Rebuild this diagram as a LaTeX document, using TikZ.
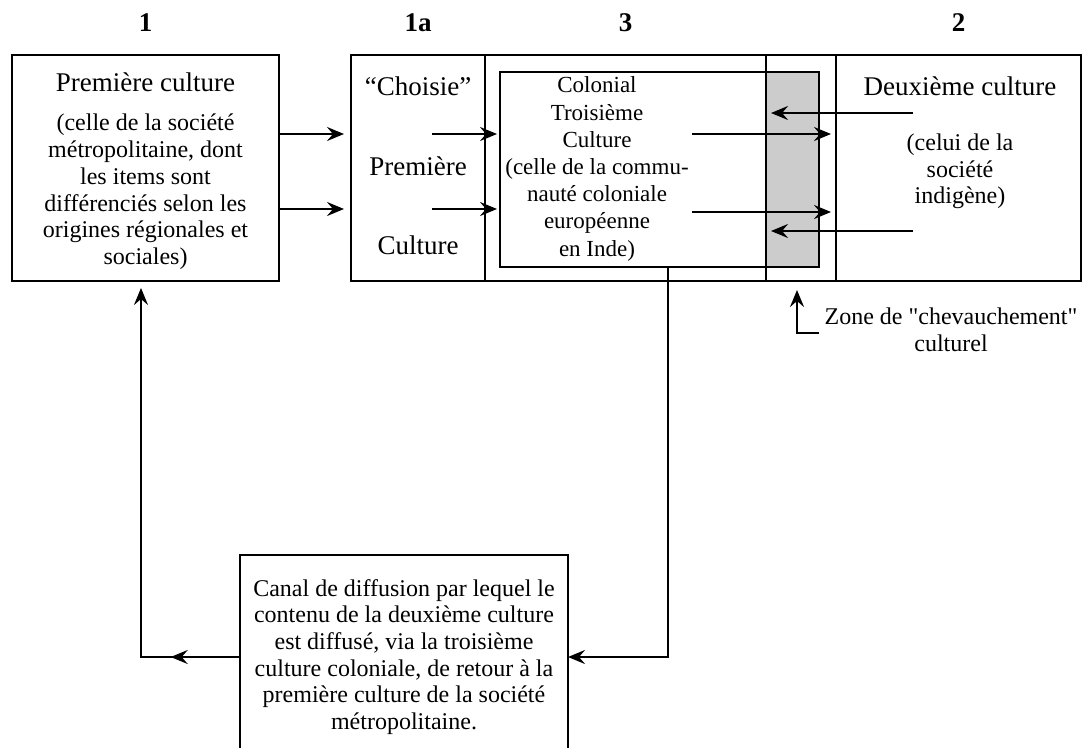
\documentclass[tikz,border=0pt]{standalone}
\usepackage{fontspec}
\setmainfont{Liberation Serif}[Ligatures=TeXOff]
\usetikzlibrary{positioning,arrows.meta,calc}
\newcommand{\titre}{\fontsize{27}{26.7}\selectfont}

\begin{document}
\begin{tikzpicture}[x=1pt,y=-1pt,
  every node/.style={inner sep=0pt},
  txt/.style={align=center,font=\fontsize{24}{26.7}\selectfont},
  panel/.style={draw,line width=2.2pt,outer sep=0pt,minimum height=226pt},
  head/.style={font=\fontsize{27}{30}\selectfont\bfseries},
  arr/.style={line width=2.2pt,-{Stealth[length=17pt,width=14pt,inset=6pt]}}]
\useasboundingbox (0,0) rectangle (1083,747);
% zone de chevauchement (grise)
\fill[black!20] (766,72) rectangle (819,267);
% cadres du haut
\node[panel,minimum width=267pt] (prem) at (145.5,168) {};
\node[panel,minimum width=134pt] (choisie) at (418,168) {};
\node[panel,minimum width=281pt,right=0pt of choisie] (trois) {};
\node[panel,minimum width=70pt,right=0pt of trois] (recouv) {};
\node[panel,minimum width=245pt,right=0pt of recouv] (deux) {};
\node[panel,minimum width=319pt,minimum height=195pt] (colon) at (659.5,169.5) {};
% textes des cadres
\node[txt] (premtxt) at (145.5,171) {{\titre Première culture}\\[13pt](celle de la société\\métropolitaine, dont\\les items sont\\différenciés selon les\\origines régionales et\\sociales)};
\node[txt,font=\titre] (choisietxt) at (418,166) {“Choisie”\\[53pt]Première\\[53pt]Culture};
\node[txt,font=\fontsize{23}{27.2}\selectfont] (colontxt) at (597,169) {Colonial\\Troisième\\Culture\\(celle de la commu-\\nauté coloniale\\européenne\\en Inde)};
\node[txt] (deuxtxt) at (960,143) {{\titre Deuxième culture}\\[28pt](celui de la\\société\\indigène)};
% numeros des colonnes
\foreach \c/\t in {prem/1,choisie/1a,trois/3,deux/2}
  \node[head,above=23pt of \c] (h-\c) {\t};
% canal de retour
\node[panel,txt,minimum width=328pt,minimum height=204pt] (canal) at (404,657) {Canal de diffusion par lequel le\\contenu de la deuxième culture\\est diffusé, via la troisième\\culture coloniale, de retour à la\\première culture de la société\\métropolitaine.};
\node[txt,inner sep=5pt] (chev) at (951,330) {Zone de "chevauchement"\\culturel};
% fleches horizontales
\foreach \y in {134,209} {
  \draw[arr,shorten >=7pt] (prem.east |- 0,\y) -- (choisie.west |- 0,\y);
  \draw[arr,shorten >=3pt] (432,\y) -- (colon.west |- 0,\y);
}
\foreach \y in {134,212}
  \draw[arr,shorten >=5pt] (692,\y) -- (deux.west |- 0,\y);
\foreach \y in {113,231}
  \draw[arr,shorten >=5pt] (913,\y) -- (trois.east |- 0,\y);
% retour vers la premiere culture
\coordinate (coin) at (141,657);
\draw[arr] (colon.south -| 668,0) -- (668,657) -- (canal.east);
\draw[arr,shorten >=7pt] (canal.west) -- (coin) -- (prem.south -| coin);
\draw[arr] (canal.west) -- ($(canal.west)!0.7!(coin)$);
\draw[arr,shorten >=9pt] ([yshift=-3pt]chev.west) -| ([xshift=31pt]recouv.south west);
\end{tikzpicture}
\end{document}
